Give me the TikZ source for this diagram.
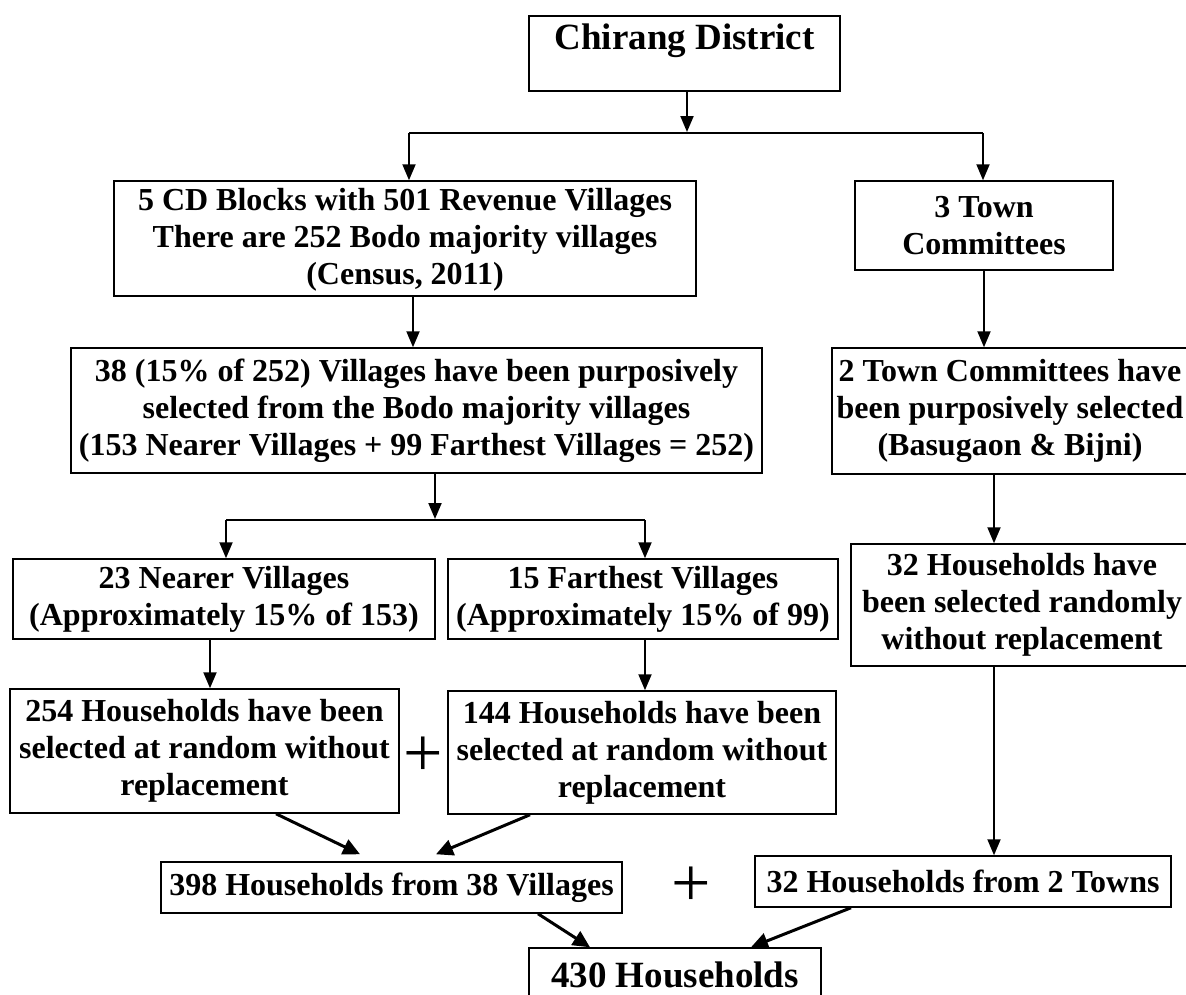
\documentclass[tikz,border=0pt]{standalone}
\usepackage{fontspec}
\setmainfont{Liberation Serif}
\usetikzlibrary{arrows.meta}
\begin{document}
\begin{tikzpicture}[x=1pt,y=-1pt,
  box/.style={draw, line width=1.5pt, inner sep=0pt, align=center,
    font=\fontsize{32}{37}\selectfont\bfseries},
  arr/.style={line width=2pt, -{Triangle[length=16pt,width=13pt]}},
  darr/.style={line width=3pt, -{Triangle[length=17pt,width=16pt]}},
  plainline/.style={line width=2pt},
  plus/.style={inner sep=0pt, font=\fontsize{70}{70}\selectfont}]
\useasboundingbox (0,0) rectangle (1186,994);

% boxes
\node[box, minimum width=311pt, minimum height=75pt, text height=27pt, text depth=36pt,
  font=\fontsize{37}{42}\selectfont\bfseries] (chirang) at (684.5,53.5) {Chirang District};
\node[box, minimum width=582pt, minimum height=115pt, text height=98pt, text depth=7pt] (cd) at (405,238.5)
  {5 CD Blocks with 501 Revenue Villages\\There are 252 Bodo majority villages\\(Census, 2011)};
\node[box, minimum width=258pt, minimum height=89pt] (town) at (984,225.5)
  {3 Town\\Committees};
\node[box, minimum width=691pt, minimum height=125pt] (v38) at (416.5,410.5)
  {38 (15\% of 252) Villages have been purposively\\selected from the Bodo majority villages\\(153 Nearer Villages + 99 Farthest Villages = 252)};
\node[box, minimum width=356pt, minimum height=126pt] (town2) at (1010,411)
  {2 Town Committees have\\been purposively selected\\(Basugaon \& Bijni)};
\node[box, minimum width=422pt, minimum height=80pt] (near) at (224,599)
  {23 Nearer Villages\\(Approximately 15\% of 153)};
\node[box, minimum width=390pt, minimum height=80pt] (far) at (643,599)
  {15 Farthest Villages\\(Approximately 15\% of 99)};
\node[box, minimum width=342pt, minimum height=122pt] (hh32) at (1022,605)
  {32 Households have\\been selected randomly\\without replacement};
\node[box, minimum width=389pt, minimum height=124pt] (hh254) at (204.5,751)
  {254 Households have been\\selected at random without\\replacement};
\node[box, minimum width=388pt, minimum height=123pt] (hh144) at (642,752.5)
  {144 Households have been\\selected at random without\\replacement};
\node[box, minimum width=461pt, minimum height=51pt] (hh398) at (391.5,887.5)
  {398 Households from 38 Villages};
\node[box, minimum width=416pt, minimum height=51pt] (towns32) at (963,881.5)
  {32 Households from 2 Towns};
\node[box, minimum width=292pt, minimum height=53pt,
  font=\fontsize{37}{42}\selectfont\bfseries] (total) at (675,974.5) {430 Households};

% plus signs
\node[plus] (plusA) at (423,757) {+};
\node[plus] (plusB) at (691,887) {+};

% top split
\coordinate (jl) at (409,133);
\coordinate (jr) at (983,133);
\draw[arr] ([xshift=2.5pt]chirang.south) -- ([xshift=2.5pt]chirang.south |- 0,132);
\draw[plainline] (jl) -- (jr);
\draw[arr] (jl) -- (jl |- cd.north);
\draw[arr] (jr) -- (jr |- town.north);

% left branch
\draw[arr] ([xshift=8pt]cd.south) -- ([xshift=8pt]cd.south |- v38.north);
\coordinate (kl) at (226,520);
\coordinate (kr) at (645,520);
\draw[arr] ([xshift=18.5pt]v38.south) -- ([xshift=18.5pt]v38.south |- 0,519);
\draw[plainline] (kl) -- (kr);
\draw[arr] (kl) -- (kl |- near.north);
\draw[arr] (kr) -- (kr |- far.north);
\draw[arr] ([xshift=-14pt]near.south) -- ([xshift=-14pt]near.south |- hh254.north);
\draw[arr] ([xshift=2pt]far.south) -- ([xshift=2pt]far.south |- hh144.north);

% right branch
\draw[arr] (town.south) -- (town.south |- town2.north);
\draw[arr] ([xshift=-16pt]town2.south) -- ([xshift=-16pt]town2.south |- hh32.north);
\draw[arr] ([xshift=-28pt]hh32.south) -- ([xshift=-28pt]hh32.south |- towns32.north);

% merging arrows
\draw[darr] ([xshift=71.5pt]hh254.south) -- ([xshift=-31.5pt,yshift=7pt]hh398.north);
\draw[darr] ([xshift=-112pt]hh144.south) -- ([xshift=44.5pt,yshift=7pt]hh398.north);
\draw[darr] ([xshift=146.5pt]hh398.south) -- ([xshift=-85pt]total.north);
\draw[darr] ([xshift=-112pt]towns32.south) -- ([xshift=76pt]total.north);
\end{tikzpicture}
\end{document}
